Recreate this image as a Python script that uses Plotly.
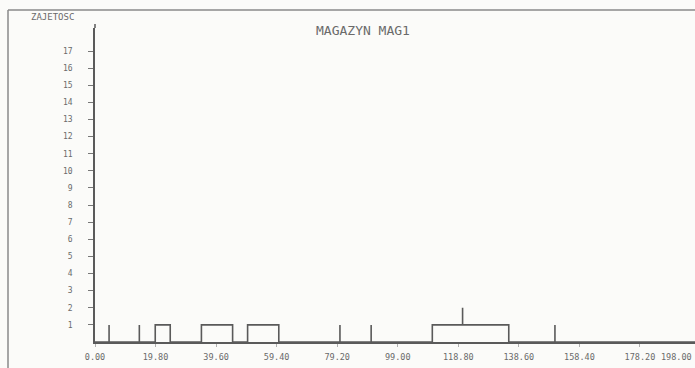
import plotly.graph_objects as go

# event times (step changes) and occupancy level after each event
times = [0, 4.6, 4.6, 14.5, 14.5, 19.7, 24.6, 34.8, 45.0, 49.9, 60.1, 80.1, 80.1,
         90.3, 90.3, 110.3, 120.2, 120.2, 135.3, 150.4, 150.4, 197]
levels = [0, 1, 0, 1, 0, 1, 0, 1, 0, 1, 0, 1, 0, 1, 0, 1, 2, 1, 0, 1, 0, 0]

x_ticks = [0, 19.8, 39.6, 59.4, 79.2, 99.0, 118.8, 138.6, 158.4, 178.2, 198.0]
x_tick_labels = ["0.00", "19.80", "39.60", "59.40", "79.20", "99.00",
                 "118.80", "138.60", "158.40", "178.20", "198.00"]
y_ticks = list(range(1, 18))

title_text = "MAGAZYN MAG1"
y_title = "ZAJETOSC"

ink = "#5a5a5a"
font = dict(family="DejaVu Sans Mono", size=8.5, color="#6a6a6a")

W, H = 695, 368
L, R, T, B = 95, 0, 28, 26
pw, ph = W - L - R, H - T - B
x_max = 196.2

def px_to_paper_x(px):
    return (px - L) / pw

def px_to_paper_y(py):
    return (H - B - py) / ph

fig = go.Figure()
fig.add_trace(go.Scatter(x=times, y=levels, mode="lines", line_shape="hv",
                         line=dict(color=ink, width=1.6), showlegend=False,
                         hoverinfo="skip", cliponaxis=False))

fig.update_layout(
    width=W, height=H,
    margin=dict(l=L, r=R, t=T, b=B, autoexpand=False),
    paper_bgcolor="#fbfbf9", plot_bgcolor="#fbfbf9",
    font=font,
    showlegend=False,
    xaxis=dict(range=[0, x_max], tickvals=x_ticks, ticktext=x_tick_labels,
               showgrid=False, zeroline=False, showline=True,
               linecolor=ink, linewidth=2, ticks="outside", ticklen=3,
               tickcolor="#b0b0b0", tickfont=font, fixedrange=True,
               automargin=False, ticklabelstandoff=3),
    yaxis=dict(range=[0, 18.35], tickvals=y_ticks, showgrid=False,
               zeroline=False, showline=True, linecolor=ink, linewidth=1.5,
               ticks="outside", ticklen=5, tickcolor="#777777",
               tickfont=dict(family="DejaVu Sans Mono", size=8, color="#6a6a6a"),
               ticklabelstandoff=14, fixedrange=True, automargin=False),
    annotations=[
        dict(text=title_text, xref="paper", yref="paper",
             x=px_to_paper_x(363), y=px_to_paper_y(30), showarrow=False,
             font=dict(family="DejaVu Sans Mono", size=13, color="#6a6a6a"),
             xanchor="center", yanchor="middle"),
        dict(text=y_title, xref="paper", yref="paper",
             x=px_to_paper_x(52), y=px_to_paper_y(17), showarrow=False,
             font=dict(family="DejaVu Sans Mono", size=9, color="#6a6a6a"),
             xanchor="center", yanchor="middle"),
        dict(text=x_tick_labels[-1], xref="paper", yref="paper",
             x=px_to_paper_x(694), y=0, yshift=-15, showarrow=False,
             font=font, xanchor="right", yanchor="middle"),
    ],
    shapes=[
        dict(type="line", xref="paper", yref="paper",
             x0=px_to_paper_x(8), x1=px_to_paper_x(695),
             y0=px_to_paper_y(10), y1=px_to_paper_y(10),
             line=dict(color="#8a8a8a", width=1.5)),
        dict(type="line", xref="paper", yref="paper",
             x0=px_to_paper_x(8), x1=px_to_paper_x(8),
             y0=px_to_paper_y(10), y1=px_to_paper_y(368),
             line=dict(color="#8a8a8a", width=1.5)),
        dict(type="line", xref="paper", yref="paper",
             x0=0, x1=0, y0=1, y1=px_to_paper_y(24),
             line=dict(color=ink, width=1.5)),
    ],
)

fig.write_html("out.html", config={"displayModeBar": False},
               post_script="document.body.style.margin='0';"
                           "document.body.style.overflow='hidden';")
